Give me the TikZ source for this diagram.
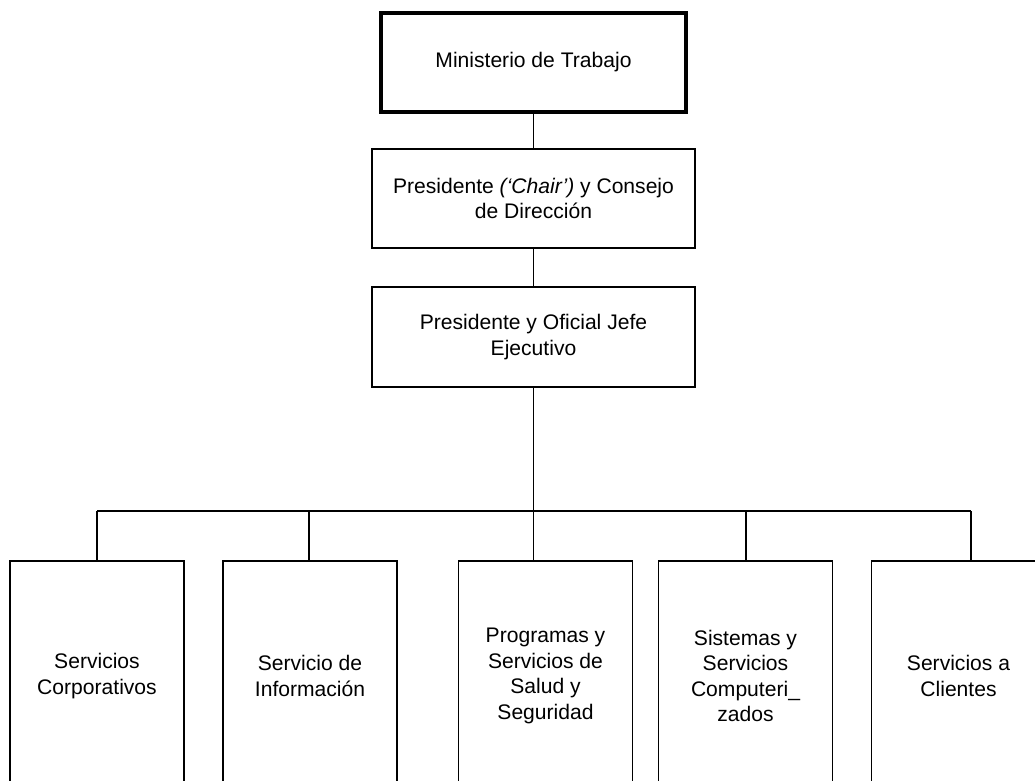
\documentclass[tikz,border=0pt]{standalone}
\usepackage{fontspec}
\setmainfont{Liberation Sans}
\begin{document}
\begin{tikzpicture}[x=0.02cm,y=-0.02cm,
    orgbox/.style={draw,line width=0.7pt,align=center,font=\fontsize{12}{14.5}\selectfont,inner sep=0pt},
    topbox/.style={orgbox,line width=2pt},
    unitbox/.style={orgbox,minimum width=174\pgflinewidth,minimum width=3.48cm,minimum height=4.6cm}]
    	\useasboundingbox (0,0) rectangle (1035,781);
    	\clip (0,0) rectangle (1035,781);
    	\node[topbox,minimum width=6.1cm,minimum height=1.98cm] (min) at (533.5,62.5) {Ministerio de Trabajo};
    	\node[orgbox,minimum width=6.46cm,minimum height=1.98cm] (pres) at (533.5,198.5) {Presidente \textit{(‘Chair’)} y Consejo\\de Dirección};
    	\node[orgbox,minimum width=6.46cm,minimum height=2cm] (ceo) at (533.5,337) {Presidente y Oficial Jefe\\Ejecutivo};

    	\node[unitbox] (cor) at (97,676) {Servicios\\Corporativos};
    	\node[unitbox] (inf) at (310,676) {Servicio de\\Información};
    	\node[unitbox] (sal) at (545.5,676) {Programas y\\Servicios de\\Salud y\\Seguridad};
    	\node[unitbox] (comp) at (745.5,676) {Sistemas y\\Servicios\\Computeri\_\\zados};
    	\node[unitbox] (cli) at (958.5,676) {Servicios a\\Clientes};

    	\coordinate (d1) at (97,511);
    	\coordinate (d2) at (309,511);
    	\coordinate (d3) at (533.5,511);
    	\coordinate (d4) at (746,511);
    	\coordinate (d5) at (971,511);

    	\draw[line width=0.7pt] (min) -- (pres);
    	\draw[line width=0.7pt] (pres) -- (ceo);
    	\draw[line width=0.7pt] (ceo.south) -- (d3 |- sal.north);
    	\draw[line width=0.7pt] (d1) -- (d5);
    	\draw[line width=0.7pt] (d1) -- (d1 |- cor.north);
    	\draw[line width=0.7pt] (d2) -- (d2 |- inf.north);
    	\draw[line width=0.7pt] (d4) -- (d4 |- comp.north);
    	\draw[line width=0.7pt] (d5) -- (d5 |- cli.north);
    	\end{tikzpicture}
\end{document}
